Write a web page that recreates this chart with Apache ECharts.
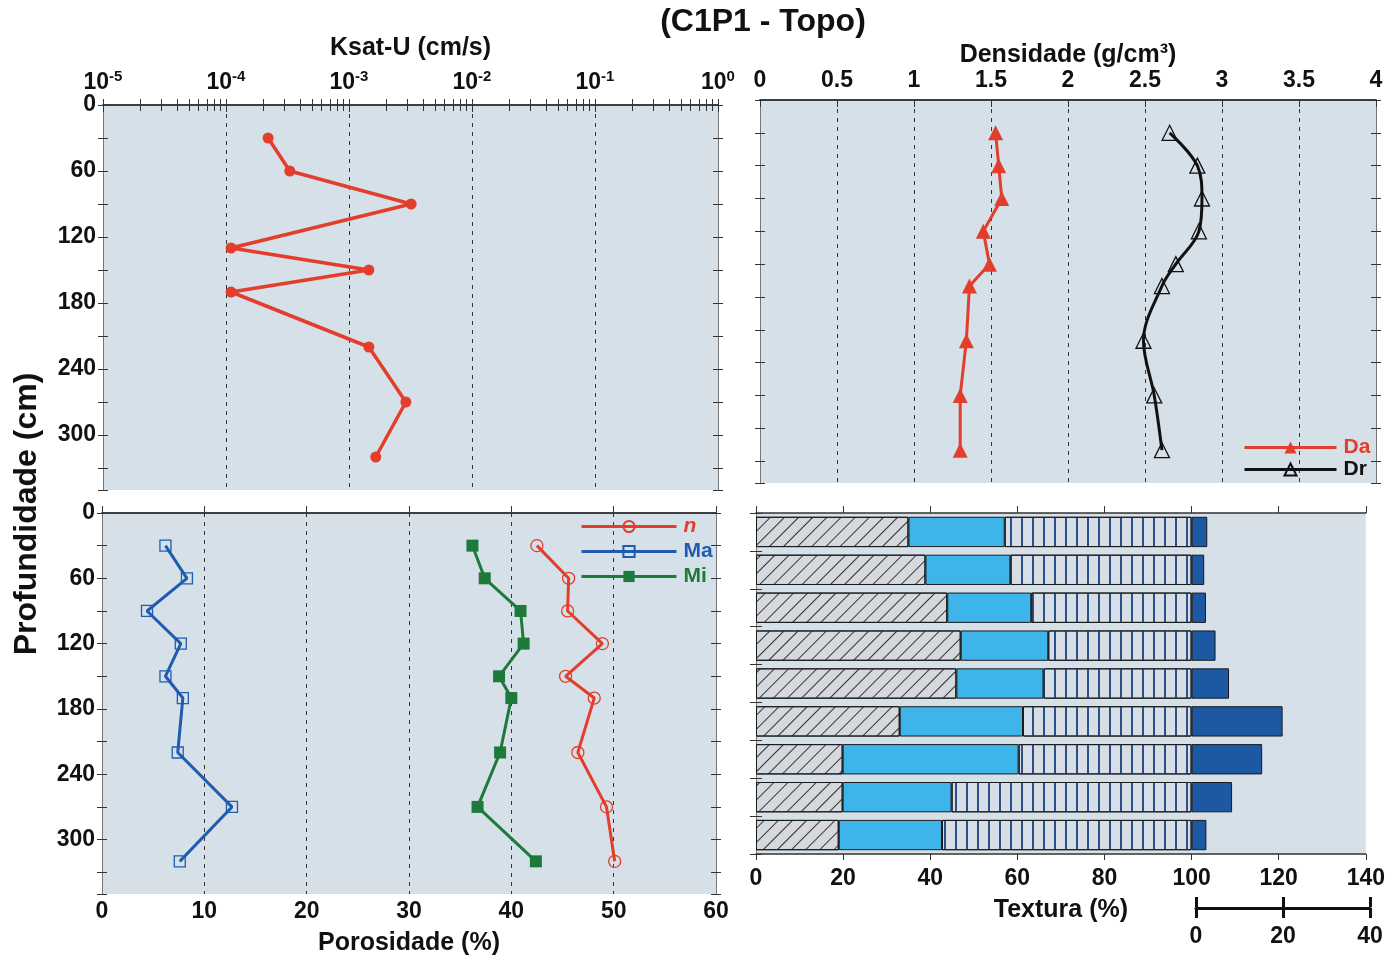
<!DOCTYPE html>
<html>
<head>
<meta charset="utf-8">
<title>C1P1 - Topo</title>
<script src="https://cdn.jsdelivr.net/npm/echarts@6/dist/echarts.min.js"></script>
<style>
  html, body { margin: 0; padding: 0; background: #ffffff; }
  #chart { width: 1388px; height: 962px; }
</style>
</head>
<body>
<div id="chart"></div>
<script>
// ---- Profile data (depth in cm) ----
const depthKsat = [30, 60, 90, 130, 150, 170, 220, 270, 320];
const ksat      = [2.2e-4, 3.3e-4, 3.2e-3, 1.1e-4, 1.45e-3, 1.1e-4, 1.45e-3, 2.9e-3, 1.65e-3];

const depthDens = [30, 60, 90, 120, 150, 170, 220, 270, 320];
const da        = [1.53, 1.55, 1.57, 1.45, 1.49, 1.36, 1.34, 1.30, 1.30];
const dr        = [2.66, 2.84, 2.87, 2.85, 2.70, 2.61, 2.49, 2.56, 2.61];

const depthPor  = [30, 60, 90, 120, 150, 170, 220, 270, 320];
const porN      = [42.5, 45.6, 45.5, 48.9, 45.3, 48.1, 46.5, 49.3, 50.1];
const porMa     = [6.2, 8.3, 4.4, 7.7, 6.2, 7.9, 7.4, 12.7, 7.6];
const porMi     = [36.2, 37.4, 40.9, 41.2, 38.8, 40.0, 38.9, 36.7, 42.4];

// Texture fractions per layer (%), plus the extra dark segment drawn beyond 100
const texLayers = ['30', '60', '90', '120', '150', '170', '220', '270', '320'];
const areia     = [35.0, 38.9, 43.9, 47.0, 46.0, 33.0, 19.9, 19.9, 19.0];
const silte     = [22.1, 19.5, 19.3, 20.1, 20.0, 28.3, 40.4, 25.0, 23.7];
const argila    = [42.9, 41.6, 36.8, 32.9, 34.0, 38.7, 39.7, 55.1, 57.3];
const ada       = [3.6, 2.9, 3.3, 5.5, 8.6, 20.9, 16.2, 9.3, 3.4];

// Tick positions for the log axis (decades and 2..9 subdivisions)
const ksatDecades = [1e-5, 1e-4, 1e-3, 1e-2, 1e-1, 1];
const logSubSteps = [2, 3, 4, 5, 6, 7, 8, 9];

const FONT  = 'Liberation Sans, Arial, Helvetica, sans-serif';
const RED   = '#e33d2c';
const BLUE  = '#1f5cb0';
const GREEN = '#1e7a3b';
const PANEL = '#d6e0e9';
const INK   = '#111111';
const DEPTH_MAX = 350;

const innerLogTicks = [];
ksatDecades.forEach(function (d, i) {
  if (i < ksatDecades.length - 1) {
    if (i > 0) innerLogTicks.push(d);
    logSubSteps.forEach(function (k) { innerLogTicks.push(+(k * d).toPrecision(3)); });
  }
});

const pair = (xs, ys) => xs.map((x, i) => [x, ys[i]]);

const labelFont = { fontFamily: FONT, fontWeight: 'bold', fontSize: 23, color: INK };
const nameFont  = { fontFamily: FONT, fontWeight: 'bold', fontSize: 25, color: INK };
const dashed    = { show: true, lineStyle: { color: '#333', width: 1, type: [4, 5] } };

// Four depth axes per panel: left/right, each with outer and inner ticks
function depthAxes(grid, withLabels) {
  const base = {
    gridIndex: grid, type: 'value', min: 0, max: DEPTH_MAX, interval: 30,
    inverse: true, splitLine: { show: false }
  };
  const tickStyle = { color: '#333', width: 1 };
  return [
    Object.assign({}, base, {
      position: 'left',
      axisLine: { show: true, lineStyle: { color: '#777', width: 1 } },
      axisTick: { show: true, length: 5, lineStyle: tickStyle },
      axisLabel: Object.assign({ show: withLabels, margin: 7,
        formatter: v => (v % 60 === 0 ? String(v) : '') }, labelFont)
    }),
    Object.assign({}, base, {
      position: 'left', axisLine: { show: false }, axisLabel: { show: false },
      axisTick: { show: true, inside: true, length: 5, lineStyle: tickStyle }
    }),
    Object.assign({}, base, {
      position: 'right',
      axisLine: { show: true, lineStyle: { color: '#777', width: 1 } },
      axisTick: { show: true, length: 5, lineStyle: tickStyle },
      axisLabel: { show: false }
    }),
    Object.assign({}, base, {
      position: 'right', axisLine: { show: false }, axisLabel: { show: false },
      axisTick: { show: true, inside: true, length: 5, lineStyle: tickStyle }
    })
  ];
}

const axisLineDark = { show: true, lineStyle: { color: '#333', width: 1.5 } };

const xAxes = [
  // 0: Ksat, top, labelled
  {
    gridIndex: 0, type: 'log', logBase: 10, min: 1e-5, max: 1, position: 'top',
    name: 'Ksat-U (cm/s)', nameLocation: 'middle', nameGap: 44, nameTextStyle: nameFont,
    axisLine: axisLineDark,
    axisTick: { show: true, length: 6, lineStyle: { color: '#333' } },
    axisLabel: {
      margin: 8, showMinLabel: true, showMaxLabel: true,
      formatter: v => '{b|10}{e|' + Math.round(Math.log10(v)) + '}',
      rich: {
        b: { fontFamily: FONT, fontWeight: 'bold', fontSize: 23, color: INK, lineHeight: 28 },
        e: { fontFamily: FONT, fontWeight: 'bold', fontSize: 15, color: INK, lineHeight: 15, verticalAlign: 'top' }
      }
    },
    splitLine: dashed
  },
  // 1: Ksat, top, inner ticks
  {
    gridIndex: 0, type: 'log', logBase: 10, min: 1e-5, max: 1, position: 'top',
    axisLine: { show: false }, axisLabel: { show: false }, splitLine: { show: false },
    axisTick: { show: true, inside: true, length: 6, customValues: innerLogTicks, lineStyle: { color: '#333' } }
  },
  // 2: Ksat, bottom line
  {
    gridIndex: 0, type: 'log', logBase: 10, min: 1e-5, max: 1, position: 'bottom',
    axisLine: axisLineDark, axisLabel: { show: false }, splitLine: { show: false },
    axisTick: { show: true, length: 7, lineStyle: { color: '#333' } }
  },
  // 3: Ksat, bottom inner ticks
  {
    gridIndex: 0, type: 'log', logBase: 10, min: 1e-5, max: 1, position: 'bottom',
    axisLine: { show: false }, axisLabel: { show: false }, splitLine: { show: false },
    axisTick: { show: true, inside: true, length: 6, customValues: innerLogTicks, lineStyle: { color: '#333' } }
  },
  // 4: Densidade, top, labelled
  {
    gridIndex: 1, type: 'value', min: 0, max: 4, interval: 0.5, position: 'top',
    name: 'Densidade (g/cm³)', nameLocation: 'middle', nameGap: 32, nameTextStyle: nameFont,
    axisLine: axisLineDark, axisTick: { show: false },
    axisLabel: Object.assign({ margin: 8, showMinLabel: true, showMaxLabel: true }, labelFont),
    splitLine: dashed
  },
  // 5: Densidade, bottom ticks
  {
    gridIndex: 1, type: 'value', min: 0, max: 4, interval: 0.5, position: 'bottom',
    axisLine: axisLineDark, axisLabel: { show: false }, splitLine: { show: false },
    axisTick: { show: true, length: 7, lineStyle: { color: '#333' } }
  },
  // 6: Porosidade, bottom, labelled
  {
    gridIndex: 2, type: 'value', min: 0, max: 60, interval: 10, position: 'bottom',
    name: 'Porosidade (%)', nameLocation: 'middle', nameGap: 37, nameTextStyle: nameFont,
    axisLine: axisLineDark, axisTick: { show: false },
    axisLabel: Object.assign({ margin: 6 }, labelFont),
    splitLine: dashed
  },
  // 7: Porosidade, top ticks
  {
    gridIndex: 2, type: 'value', min: 0, max: 60, interval: 10, position: 'top',
    axisLine: axisLineDark, axisLabel: { show: false }, splitLine: { show: false },
    axisTick: { show: true, length: 7, lineStyle: { color: '#333' } }
  },
  // 8: Textura, bottom, labelled
  {
    gridIndex: 3, type: 'value', min: 0, max: 140, interval: 20, position: 'bottom',
    name: 'Textura (%)', nameLocation: 'middle', nameGap: 44, nameTextStyle: nameFont,
    axisLine: axisLineDark,
    axisTick: { show: true, length: 6, lineStyle: { color: '#333' } },
    axisLabel: Object.assign({ margin: 13 }, labelFont),
    splitLine: { show: false }
  },
  // 9: Textura, top ticks
  {
    gridIndex: 3, type: 'value', min: 0, max: 140, interval: 20, position: 'top',
    axisLine: axisLineDark, axisLabel: { show: false }, splitLine: { show: false },
    axisTick: { show: true, length: 7, lineStyle: { color: '#333' } }
  },
  // 10: scale bar for the dark segment (0-40), bottom with labels
  {
    gridIndex: 4, type: 'value', min: 0, max: 40, interval: 20, position: 'bottom',
    axisLine: { show: true, lineStyle: { color: INK, width: 3 } },
    axisTick: { show: true, length: 10, lineStyle: { color: INK, width: 3 } },
    axisLabel: Object.assign({ margin: 17, showMinLabel: true, showMaxLabel: true }, labelFont),
    splitLine: { show: false }
  },
  // 11: scale bar, upper half of the ticks
  {
    gridIndex: 4, type: 'value', min: 0, max: 40, interval: 20, position: 'top',
    axisLine: { show: false }, axisLabel: { show: false }, splitLine: { show: false },
    axisTick: { show: true, length: 10, lineStyle: { color: INK, width: 3 } }
  }
];

const yAxes = []
  .concat(depthAxes(0, true))   // 0..3
  .concat(depthAxes(1, false))  // 4..7
  .concat(depthAxes(2, true))   // 8..11
  .concat([
    { // 12: texture layers, left
      gridIndex: 3, type: 'category', data: texLayers, inverse: true, position: 'left',
      axisLine: { show: true, lineStyle: { color: '#777' } },
      axisTick: { show: true, length: 6, lineStyle: { color: '#333' } },
      axisLabel: { show: false }, splitLine: { show: false }
    },
    { // 13: texture layers, right
      gridIndex: 3, type: 'category', data: texLayers, inverse: true, position: 'right',
      axisLine: { show: true, lineStyle: { color: '#777' } },
      axisTick: { show: true, length: 6, lineStyle: { color: '#333' } },
      axisLabel: { show: false }, splitLine: { show: false }
    },
    { // 14: scale bar (hidden)
      gridIndex: 4, type: 'value', show: false, min: 0, max: 1
    }
  ]);

const barBorder = { borderColor: '#1a1a1a', borderWidth: 1 };

const option = {
  animation: false,
  backgroundColor: '#ffffff',
  grid: [
    { left: 103, top: 105, width: 615, height: 385, show: true, backgroundColor: PANEL, borderWidth: 0 },
    { left: 760, top: 100, width: 616, height: 383, show: true, backgroundColor: PANEL, borderWidth: 0 },
    { left: 102, top: 513, width: 614, height: 381, show: true, backgroundColor: PANEL, borderWidth: 0 },
    { left: 756, top: 513, width: 614, height: 341, show: true, backgroundColor: PANEL, borderWidth: 0 },
    { left: 1196, top: 907, width: 174, height: 1, show: false }
  ],
  xAxis: xAxes,
  yAxis: yAxes,
  legend: [
    {
      data: [
        { name: 'Da', textStyle: { color: RED } },
        { name: 'Dr', textStyle: { color: INK } }
      ],
      orient: 'vertical', left: 1243, top: 437, itemWidth: 92, itemHeight: 15, itemGap: 1,
      padding: 0, selectedMode: false, lineStyle: { width: 3 },
      textStyle: { fontFamily: FONT, fontWeight: 'bold', fontSize: 21, lineHeight: 18, padding: [0, 0, 0, 2] }
    },
    {
      data: [
        { name: 'n', textStyle: { color: RED, fontStyle: 'italic' } },
        { name: 'Ma', textStyle: { color: BLUE } },
        { name: 'Mi', textStyle: { color: GREEN } }
      ],
      orient: 'vertical', left: 580, top: 516, itemWidth: 95, itemHeight: 14, itemGap: 4,
      padding: 0, selectedMode: false, lineStyle: { width: 3 },
      textStyle: { fontFamily: FONT, fontWeight: 'bold', fontSize: 21, lineHeight: 20, padding: [0, 0, 0, 2] }
    }
  ],
  graphic: [
    {
      type: 'text', x: 763, y: 22, z: 10,
      style: { text: '(C1P1 - Topo)', font: 'bold 32px ' + FONT, fill: INK,
               align: 'center', verticalAlign: 'middle', textAlign: 'center', textVerticalAlign: 'middle' }
    },
    {
      type: 'text', x: 27, y: 514, rotation: Math.PI / 2, z: 10,
      style: { text: 'Profundidade (cm)', font: 'bold 32px ' + FONT, fill: INK,
               align: 'center', verticalAlign: 'middle', textAlign: 'center', textVerticalAlign: 'middle' }
    }
  ],
  series: [
    {
      name: 'Ksat', type: 'line', xAxisIndex: 0, yAxisIndex: 0,
      data: pair(ksat, depthKsat),
      symbol: 'circle', symbolSize: 11,
      itemStyle: { color: RED }, lineStyle: { color: RED, width: 3.5 }
    },
    {
      name: 'Da', type: 'line', xAxisIndex: 4, yAxisIndex: 4,
      data: pair(da, depthDens),
      symbol: 'triangle', symbolSize: 15,
      itemStyle: { color: RED }, lineStyle: { color: RED, width: 3 }
    },
    {
      name: 'Dr', type: 'line', xAxisIndex: 4, yAxisIndex: 4, smooth: 0.35,
      data: pair(dr, depthDens),
      symbol: 'triangle', symbolSize: 15,
      itemStyle: { color: 'rgba(255,255,255,0)', borderColor: INK, borderWidth: 1.3 },
      lineStyle: { color: INK, width: 3 }
    },
    {
      name: 'n', type: 'line', xAxisIndex: 6, yAxisIndex: 8,
      data: pair(porN, depthPor),
      symbol: 'circle', symbolSize: 12,
      itemStyle: { color: 'rgba(255,255,255,0)', borderColor: RED, borderWidth: 1.3 },
      lineStyle: { color: RED, width: 3 }
    },
    {
      name: 'Ma', type: 'line', xAxisIndex: 6, yAxisIndex: 8,
      data: pair(porMa, depthPor),
      symbol: 'rect', symbolSize: 11,
      itemStyle: { color: 'rgba(255,255,255,0)', borderColor: BLUE, borderWidth: 1.3 },
      lineStyle: { color: BLUE, width: 3 }
    },
    {
      name: 'Mi', type: 'line', xAxisIndex: 6, yAxisIndex: 8,
      data: pair(porMi, depthPor),
      symbol: 'rect', symbolSize: 12,
      itemStyle: { color: GREEN }, lineStyle: { color: GREEN, width: 3 }
    },
    {
      name: 'Areia', type: 'bar', xAxisIndex: 8, yAxisIndex: 12, stack: 'tex', barWidth: '80%',
      data: areia,
      itemStyle: Object.assign({
        color: '#d5d9dd',
        decal: { symbol: 'rect', symbolSize: 1, color: '#333333',
                 dashArrayX: [1, 0], dashArrayY: [1, 9], rotation: -Math.PI / 4 }
      }, barBorder)
    },
    {
      name: 'Silte', type: 'bar', xAxisIndex: 8, yAxisIndex: 12, stack: 'tex', barWidth: '80%',
      data: silte,
      itemStyle: Object.assign({ color: '#3db4ea' }, barBorder)
    },
    {
      name: 'Argila', type: 'bar', xAxisIndex: 8, yAxisIndex: 12, stack: 'tex', barWidth: '80%',
      data: argila,
      itemStyle: Object.assign({
        color: '#d8dee5',
        decal: { symbol: 'rect', symbolSize: 1, color: '#2c5088',
                 dashArrayX: [1, 0], dashArrayY: [1.1, 9], rotation: Math.PI / 2 }
      }, barBorder)
    },
    {
      name: 'ADA', type: 'bar', xAxisIndex: 8, yAxisIndex: 12, stack: 'tex', barWidth: '80%',
      data: ada,
      itemStyle: Object.assign({ color: '#1d58a3' }, barBorder)
    }
  ]
};

const chart = echarts.init(document.getElementById('chart'));
chart.setOption(option);
</script>
</body>
</html>
